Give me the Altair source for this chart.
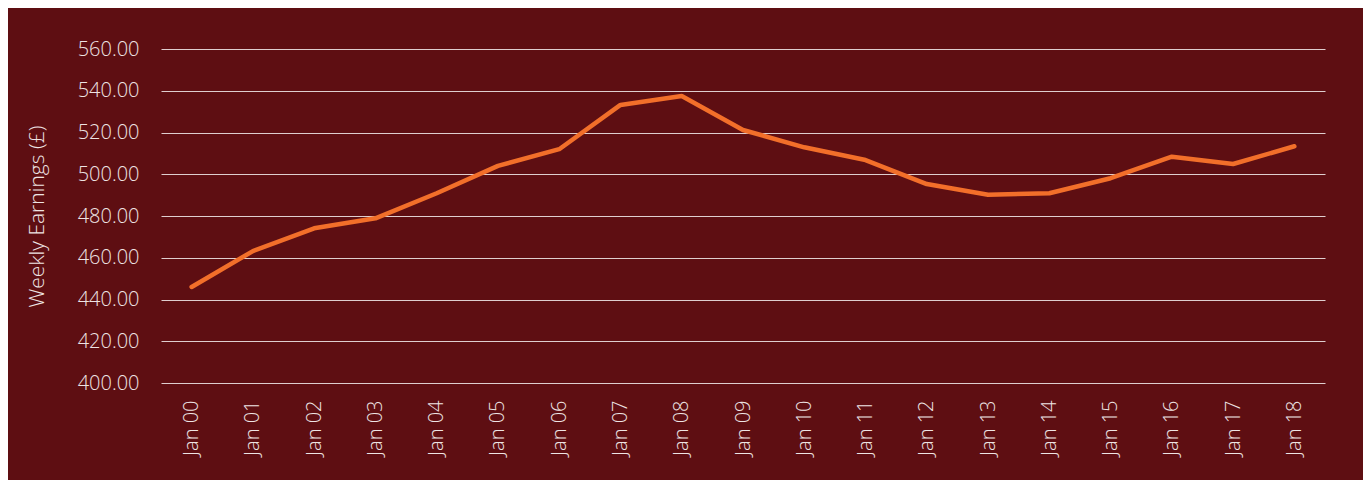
import altair as alt
import pandas as pd

months = ["Jan 00", "Jan 01", "Jan 02", "Jan 03", "Jan 04", "Jan 05", "Jan 06",
          "Jan 07", "Jan 08", "Jan 09", "Jan 10", "Jan 11", "Jan 12", "Jan 13",
          "Jan 14", "Jan 15", "Jan 16", "Jan 17", "Jan 18"]
earnings = [446.0, 463.2, 474.1, 478.9, 490.9, 504.0, 512.0, 533.2, 537.5, 521.2,
            512.9, 506.8, 495.3, 490.2, 490.9, 498.1, 508.4, 504.9, 513.4]
y_ticks = [400, 420, 440, 460, 480, 500, 520, 540, 560]

df = pd.DataFrame({"month": months, "earnings": earnings})

FONT = "Open Sans"
TXT = "#EEE4E4"

chart = alt.Chart(df).mark_line(
    color="#F26F2A", strokeWidth=4.5, strokeCap="round", strokeJoin="round"
).encode(
    x=alt.X("month:N", sort=months, title=None,
            scale=alt.Scale(paddingInner=0, paddingOuter=0.5),
            axis=alt.Axis(labelAngle=270, labelPadding=17, ticks=False, domain=False,
                          grid=False, labelFontSize=20, labelColor=TXT,
                          labelFont=FONT, labelFontWeight=300)),
    y=alt.Y("earnings:Q", title="Weekly Earnings (£)",
            scale=alt.Scale(domain=[400, 560], nice=False, zero=False),
            axis=alt.Axis(values=y_ticks, format=".2f", ticks=False, domain=False,
                          labelPadding=22, labelFontSize=20, labelColor=TXT,
                          labelFont=FONT, labelFontWeight=300,
                          titleFont=FONT, titleFontWeight=300, titleFontSize=21,
                          titleColor=TXT, titleX=-114,
                          grid=True, gridColor="#FFFFFF", gridOpacity=0.8,
                          gridWidth=1.2)),
).properties(
    width=1164, height=334,
    autosize=alt.AutoSizeParams(type="none"),
    padding={"left": 153, "top": 41, "right": 38, "bottom": 97},
    background="#5E0E12",
).configure_view(strokeWidth=0)

chart.save("out.html", embed_options={"renderer": "svg", "actions": False})
